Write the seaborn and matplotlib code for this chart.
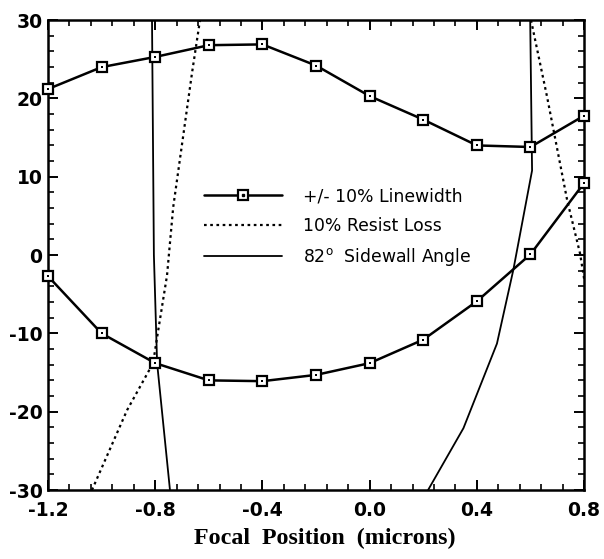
import numpy as np
import pandas as pd
import matplotlib
matplotlib.use("Agg")
import matplotlib.pyplot as plt
import seaborn as sns
from matplotlib.ticker import MultipleLocator
from matplotlib.lines import Line2D

# linewidth +/- 10% curves (sampled every 0.2 micron)
focus = [-1.2, -1.0, -0.8, -0.6, -0.4, -0.2, 0.0, 0.2, 0.4, 0.6, 0.8]
lw_upper = [21.2, 24.0, 25.3, 26.8, 26.9, 24.2, 20.3, 17.3, 14.0, 13.8, 17.8]
lw_lower = [-2.7, -10.0, -13.8, -16.0, -16.1, -15.3, -13.8, -10.8, -5.9, 0.1, 9.2]

# 10% resist loss boundary (two branches)
rl_left_x = [-1.036, -0.905, -0.808, -0.793, -0.756, -0.733, -0.663, -0.633]
rl_left_y = [-30.0, -19.8, -13.8, -10.5, -2.6, 6.1, 23.2, 30.0]
rl_right_x = [0.602, 0.662, 0.737, 0.785, 0.80]
rl_right_y = [30.0, 20.2, 7.0, 0.2, -3.0]

# 82 degree sidewall angle boundary (two branches)
sw_left_x = [-0.812, -0.805, -0.793, -0.745]
sw_left_y = [30.0, 0.0, -13.8, -30.0]
sw_right_x = [0.599, 0.606, 0.536, 0.475, 0.35, 0.218]
sw_right_y = [30.0, 10.8, -1.9, -11.3, -22.1, -30.0]

sns.set_style("ticks")
plt.rcParams["font.family"] = ["DejaVu Sans"]
plt.rcParams["axes.unicode_minus"] = False
plt.rcParams["text.color"] = "black"

fig = plt.figure(figsize=(6.04, 5.59), dpi=100)
ax = fig.add_axes([0.0795, 0.1234, 0.8875, 0.8406])

mk = dict(marker="s", markersize=7, markerfacecolor="white",
          markeredgecolor="black", markeredgewidth=1.6)
dotted = (0, (1.2, 1.6))
for ys in (lw_upper, lw_lower):
    sns.lineplot(x=focus, y=ys, color="black", linewidth=1.8, sort=False,
                 ax=ax, clip_on=False, zorder=3, **mk)
    sns.scatterplot(x=focus, y=ys, color="black", s=2, marker="s",
                    linewidth=0, ax=ax, clip_on=False, zorder=4)

for xs, ys in ((rl_left_x, rl_left_y), (rl_right_x, rl_right_y)):
    sns.lineplot(x=xs, y=ys, color="black", linewidth=1.6, sort=False,
                 linestyle=dotted, ax=ax)
for xs, ys in ((sw_left_x, sw_left_y), (sw_right_x, sw_right_y)):
    sns.lineplot(x=xs, y=ys, color="black", linewidth=1.3, sort=False, ax=ax)

ax.set_xlim(-1.2, 0.8)
ax.set_ylim(-30, 30)
ax.xaxis.set_major_locator(MultipleLocator(0.4))
ax.xaxis.set_minor_locator(MultipleLocator(0.08))
ax.yaxis.set_major_locator(MultipleLocator(10))
ax.yaxis.set_minor_locator(MultipleLocator(2))
ax.xaxis.set_major_formatter(plt.FuncFormatter(lambda v, p: f"{v:.1f}"))
ax.tick_params(which="both", direction="in", top=True, right=True,
               color="black", labelcolor="black", labelsize=13.5)
ax.tick_params(which="major", length=7, width=1.4, pad=4)
ax.tick_params(which="minor", length=4, width=1.2)
ax.tick_params(axis="x", which="major", pad=8)
for lab in ax.get_xticklabels() + ax.get_yticklabels():
    lab.set_fontweight("bold")
for sp in ax.spines.values():
    sp.set_linewidth(1.8)
    sp.set_color("black")

ax.set_xlabel("Focal  Position  (microns)", fontsize=17.3, fontweight="bold",
              family="Liberation Serif", color="black")
ax.xaxis.set_label_coords(0.517, -0.08, transform=ax.transAxes)

h1 = (Line2D([], [], color="black", linewidth=1.8, **mk),
      Line2D([], [], color="black", marker="s", markersize=1.5, linestyle="none"))
h2 = Line2D([], [], color="black", linewidth=1.6, linestyle=dotted)
h3 = Line2D([], [], color="black", linewidth=1.3)
ax.legend([h1, h2, h3],
          ["+/- 10% Linewidth", "10% Resist Loss", "82$^\\mathrm{o}$  Sidewall Angle"],
          loc="upper left", bbox_to_anchor=(0.2625, 0.677), frameon=False,
          fontsize=12.4, handlelength=4.5, handletextpad=1.25, labelspacing=0.65,
          numpoints=1)

fig.savefig("out.png", dpi=100)
